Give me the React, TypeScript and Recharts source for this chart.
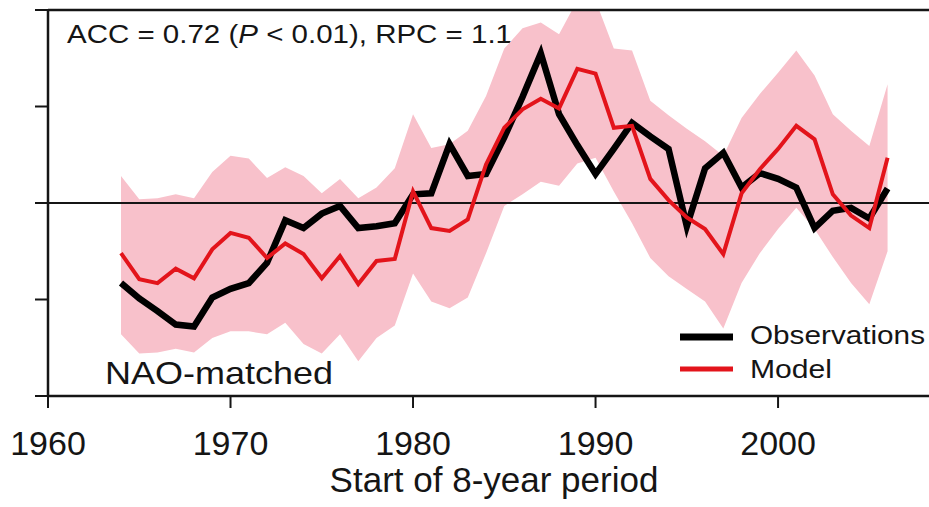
import { ComposedChart, Area, Line, XAxis, YAxis, ReferenceLine } from "recharts";

// start year of each 8-year period
const years = [
  1964, 1965, 1966, 1967, 1968, 1969, 1970, 1971, 1972, 1973, 1974, 1975, 1976, 1977, 1978,
  1979, 1980, 1981, 1982, 1983, 1984, 1985, 1986, 1987, 1988, 1989, 1990, 1991, 1992, 1993,
  1994, 1995, 1996, 1997, 1998, 1999, 2000, 2001, 2002, 2003, 2004, 2005, 2006,
];

const observations = [
  -0.83, -0.99, -1.12, -1.26, -1.28, -0.98, -0.89, -0.83, -0.62, -0.18,
  -0.26, -0.11, -0.03, -0.26, -0.24, -0.21, 0.09, 0.1, 0.61, 0.28,
  0.3, 0.68, 1.1, 1.55, 0.92, 0.6, 0.3, 0.56, 0.83, 0.69,
  0.56, -0.24, 0.36, 0.52, 0.16, 0.31, 0.25, 0.16, -0.26, -0.08,
  -0.05, -0.16, 0.15,
];

const model = [
  -0.52, -0.79, -0.83, -0.68, -0.78, -0.48, -0.31, -0.36, -0.57, -0.42,
  -0.53, -0.78, -0.55, -0.84, -0.6, -0.58, 0.12, -0.26, -0.29, -0.17,
  0.4, 0.78, 0.97, 1.08, 0.98, 1.39, 1.34, 0.78, 0.8, 0.25,
  0.03, -0.15, -0.27, -0.53, 0.1, 0.35, 0.56, 0.8, 0.66, 0.09,
  -0.13, -0.26, 0.47,
];

const bandLow = [
  -1.36, -1.56, -1.55, -1.51, -1.55, -1.4, -1.33, -1.33, -1.36, -1.24,
  -1.46, -1.56, -1.36, -1.64, -1.4, -1.27, -0.73, -1.02, -1.09, -0.98,
  -0.52, -0.03, 0.09, 0.22, 0.18, 0.41, 0.47, 0.12, -0.21, -0.57,
  -0.76, -0.89, -1.02, -1.3, -0.83, -0.52, -0.27, -0.05, -0.27, -0.56,
  -0.83, -1.05, -0.5,
];

const bandHigh = [
  0.28, 0.04, 0.05, 0.09, 0.05, 0.32, 0.49, 0.46, 0.26, 0.37,
  0.28, 0.1, 0.25, 0.05, 0.16, 0.36, 0.92, 0.57, 0.61, 0.75,
  1.11, 1.6, 1.81, 1.87, 1.75, 2.1, 2.1, 1.6, 1.58, 1.06,
  0.91, 0.77, 0.64, 0.49, 0.88, 1.13, 1.35, 1.58, 1.32, 0.92,
  0.75, 0.59, 1.23,
];

const xTicks = [1960, 1970, 1980, 1990, 2000];
const yTicks = [-2, -1, 0, 1, 2];

const data = years.map((year, i) => ({
  year,
  obs: observations[i],
  model: model[i],
  band: [bandLow[i], bandHigh[i]],
}));

const ink = "#151515";

const XTick = (props: any) => {
  const { x, payload } = props;
  return (
    <text x={x} y={455} textAnchor="middle" fontSize={34} fill={ink}>
      {payload.value}
    </text>
  );
};

export default function App() {
  return (
    <div
      style={{
        position: "absolute",
        left: 0,
        top: 0,
        width: 929,
        height: 507,
        background: "#fff",
        fontFamily: "'Liberation Sans', Arial, sans-serif",
      }}
    >
      <ComposedChart
        width={929}
        height={507}
        data={data}
        margin={{ top: 10, right: 0, bottom: 51, left: 28 }}
      >
        <XAxis
          type="number"
          dataKey="year"
          domain={[1960, 2008.27]}
          allowDataOverflow
          ticks={xTicks}
          interval={0}
          height={60}
          tickSize={12}
          axisLine={{ stroke: ink, strokeWidth: 2.5 }}
          tickLine={{ stroke: ink, strokeWidth: 2 }}
          tick={<XTick />}
        />
        <YAxis
          type="number"
          domain={[-2, 2]}
          allowDataOverflow
          ticks={yTicks}
          interval={0}
          width={20}
          tickSize={13}
          axisLine={{ stroke: ink, strokeWidth: 2.5 }}
          tickLine={{ stroke: ink, strokeWidth: 2 }}
          tick={() => <g />}
        />
        <Area
          dataKey="band"
          type="linear"
          fill="#F8C1CB"
          fillOpacity={1}
          stroke="none"
          isAnimationActive={false}
        />
        <ReferenceLine y={0} stroke={ink} strokeWidth={1.8} />
        <ReferenceLine y={2} stroke={ink} strokeWidth={2.5} />
        <Line
          dataKey="obs"
          type="linear"
          stroke="#000"
          strokeWidth={6.5}
          strokeLinejoin="miter"
          dot={false}
          isAnimationActive={false}
        />
        <Line
          dataKey="model"
          type="linear"
          stroke="#E3141B"
          strokeWidth={4}
          strokeLinejoin="miter"
          dot={false}
          isAnimationActive={false}
        />

        <text x={67} y={43} fontSize={25} fill={ink} textLength={445} lengthAdjust="spacingAndGlyphs">
          ACC = 0.72 (<tspan fontStyle="italic">P</tspan> &lt; 0.01), RPC = 1.1
        </text>
        <text x={105} y={384} fontSize={32} fill={ink} textLength={228} lengthAdjust="spacingAndGlyphs">
          NAO-matched
        </text>

        <line x1={680} x2={733} y1={337} y2={337} stroke="#000" strokeWidth={7} />
        <text x={750} y={344} fontSize={26} fill={ink} textLength={175} lengthAdjust="spacingAndGlyphs">
          Observations
        </text>
        <line x1={680} x2={733} y1={369} y2={369} stroke="#E3141B" strokeWidth={5} />
        <text x={750} y={378} fontSize={26} fill={ink} textLength={82} lengthAdjust="spacingAndGlyphs">
          Model
        </text>

        <text x={494} y={492} fontSize={35} fill={ink} textAnchor="middle">
          Start of 8-year period
        </text>
      </ComposedChart>
    </div>
  );
}
